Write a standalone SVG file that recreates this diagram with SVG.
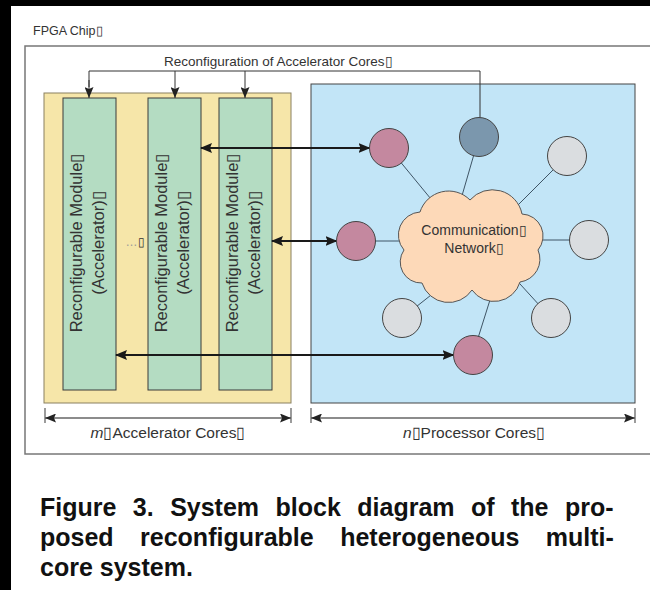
<svg xmlns="http://www.w3.org/2000/svg" width="650" height="590" viewBox="0 0 650 590">
<defs>
<style>
.t{font-family:"Liberation Sans",Arial,sans-serif;fill:#333}
.mod{fill:#b4dcc2;stroke:#3a3a3a;stroke-width:1}
.mt{font-family:"Liberation Sans",Arial,sans-serif;font-size:16.5px;fill:#333;text-anchor:middle}
.pink{fill:#c4889f;stroke:#444;stroke-width:1}
.gray{fill:#dadde0;stroke:#444;stroke-width:1}
.dark{fill:#7b97ad;stroke:#444;stroke-width:1}
.spoke{stroke:#3f5566;stroke-width:1;fill:none}
.dbl{stroke:#1a1a1a;stroke-width:2;fill:none;marker-start:url(#ah);marker-end:url(#ah)}
.rc{stroke:#333;stroke-width:1;fill:none}
.dim{stroke:#666;stroke-width:1.3;fill:none}
.cap{font-family:"Liberation Sans",Arial,sans-serif;font-size:25px;font-weight:bold;fill:#111}
</style>
<marker id="ah" viewBox="0 0 12 10" refX="11" refY="5" markerWidth="12" markerHeight="10" markerUnits="userSpaceOnUse" orient="auto-start-reverse">
<path d="M0,0 L12,5 L0,10 L2,5 z" fill="#1a1a1a"/>
</marker>
<marker id="ahs" viewBox="0 0 11 9" refX="11" refY="4.5" markerWidth="11" markerHeight="9" markerUnits="userSpaceOnUse" orient="auto">
<path d="M0,0 L11,4.5 L0,9 L2,4.5 z" fill="#222"/>
</marker>
<marker id="ahd" viewBox="0 0 11 9" refX="11" refY="4.5" markerWidth="11" markerHeight="9" markerUnits="userSpaceOnUse" orient="auto-start-reverse">
<path d="M0,0 L11,4.5 L0,9 L2,4.5 z" fill="#222"/>
</marker>
</defs>
<rect x="0" y="0" width="650" height="590" fill="#000"/>
<rect x="11" y="6" width="639" height="584" fill="#fff"/>

<g id="fpga-chip">
<rect x="25" y="46" width="640" height="408" fill="none" stroke="#777" stroke-width="1.5"/>
<text class="t" x="33" y="35" font-size="12.5">FPGA Chip▯</text>
</g>

<g id="accelerator-region">
<rect x="44" y="93" width="247" height="310" fill="#f6e6a9" stroke="#8a8060" stroke-width="1"/>
</g>

<g id="module-1">
<rect class="mod" x="63" y="98" width="53" height="292"/>
<text class="mt" transform="translate(82,243) rotate(-90)">Reconfigurable Module▯</text>
<text class="mt" transform="translate(104,243) rotate(-90)">(Accelerator)▯</text>
</g>
<g id="ellipsis">
<text class="t" x="135" y="246" font-size="12" text-anchor="middle"><tspan fill="#999">…</tspan>▯</text>
</g>
<g id="module-2">
<rect class="mod" x="148" y="98" width="53" height="292"/>
<text class="mt" transform="translate(167,243) rotate(-90)">Reconfigurable Module▯</text>
<text class="mt" transform="translate(189,243) rotate(-90)">(Accelerator)▯</text>
</g>
<g id="module-3">
<rect class="mod" x="219" y="98" width="53" height="292"/>
<text class="mt" transform="translate(238,243) rotate(-90)">Reconfigurable Module▯</text>
<text class="mt" transform="translate(260,243) rotate(-90)">(Accelerator)▯</text>
</g>

<g id="processor-region">
<rect x="311" y="84" width="324" height="319" fill="#c2e5f7" stroke="#444" stroke-width="1"/>
</g>

<g id="connectors">
<line class="spoke" x1="389" y1="148" x2="440" y2="210"/>
<line class="spoke" x1="479" y1="137" x2="459" y2="206"/>
<line class="spoke" x1="567" y1="156" x2="505" y2="218"/>
<line class="spoke" x1="356" y1="241" x2="420" y2="241"/>
<line class="spoke" x1="589" y1="240" x2="525" y2="240"/>
<line class="spoke" x1="402" y1="318" x2="445" y2="284"/>
<line class="spoke" x1="473" y1="354" x2="495" y2="284"/>
<line class="spoke" x1="551" y1="318" x2="510" y2="273"/>
<polyline class="rc" points="89,87 89,71 480,71 480,117.5"/>
<line class="rc" x1="89" y1="80" x2="89" y2="98" marker-end="url(#ahs)"/>
<line class="rc" x1="175" y1="71" x2="175" y2="98" marker-end="url(#ahs)"/>
<line class="rc" x1="245" y1="71" x2="245" y2="98" marker-end="url(#ahs)"/>
<line class="dbl" x1="201" y1="148" x2="369.5" y2="148"/>
<line class="dbl" x1="272" y1="241" x2="336.5" y2="241"/>
<line class="dbl" x1="116" y1="355" x2="453.5" y2="355"/>
<line class="dim" x1="45" y1="408" x2="45" y2="423"/>
<line class="dim" x1="291" y1="408" x2="291" y2="423"/>
<line class="dim" x1="45" y1="418" x2="291" y2="418" marker-start="url(#ahd)" marker-end="url(#ahd)"/>
<line class="dim" x1="311" y1="408" x2="311" y2="423"/>
<line class="dim" x1="635" y1="408" x2="635" y2="423"/>
<line class="dim" x1="311" y1="418" x2="635" y2="418" marker-start="url(#ahd)" marker-end="url(#ahd)"/>
</g>

<g id="reconfig-label">
<text class="t" x="164" y="66" font-size="13.5">Reconfiguration of Accelerator Cores▯</text>
</g>

<g id="network">
<path d="M420,212 A30,30 0 0 1 470,200 A30,30 0 0 1 522,214 A22,22 0 0 1 538,250 A23,23 0 0 1 520,282 A27,27 0 0 1 472,290 A28,28 0 0 1 422,283 A21,21 0 0 1 404,250 A23,23 0 0 1 420,212 z" fill="#fdd9b8" stroke="#555" stroke-width="1"/>
<text class="t" x="474" y="235" font-size="14" text-anchor="middle">Communication▯</text>
<text class="t" x="474" y="253" font-size="14" text-anchor="middle">Network▯</text>
</g>

<g id="core-p1"><circle class="pink" cx="389" cy="148" r="19.5"/></g>
<g id="core-ctrl"><circle class="dark" cx="479" cy="137" r="19.5"/></g>
<g id="core-g1"><circle class="gray" cx="567" cy="156" r="19.5"/></g>
<g id="core-p2"><circle class="pink" cx="356" cy="241" r="19.5"/></g>
<g id="core-g2"><circle class="gray" cx="589" cy="240" r="19.5"/></g>
<g id="core-g3"><circle class="gray" cx="402" cy="318" r="19.5"/></g>
<g id="core-g4"><circle class="gray" cx="551" cy="318" r="19.5"/></g>
<g id="core-p3"><circle class="pink" cx="473" cy="355" r="19.5"/></g>

<g id="dim-labels">
<text class="t" x="168" y="438" font-size="15.5" text-anchor="middle"><tspan font-style="italic">m</tspan>▯Accelerator Cores▯</text>
<text class="t" x="474" y="438" font-size="15.5" text-anchor="middle"><tspan font-style="italic">n</tspan>▯Processor Cores▯</text>
</g>

<g id="caption">
<text class="cap" x="40" y="516" word-spacing="9.5">Figure 3. System block diagram of the pro-</text>
<text class="cap" x="40" y="546" word-spacing="19.5">posed reconfigurable heterogeneous multi-</text>
<text class="cap" x="40" y="576">core system.</text>
</g>
</svg>
